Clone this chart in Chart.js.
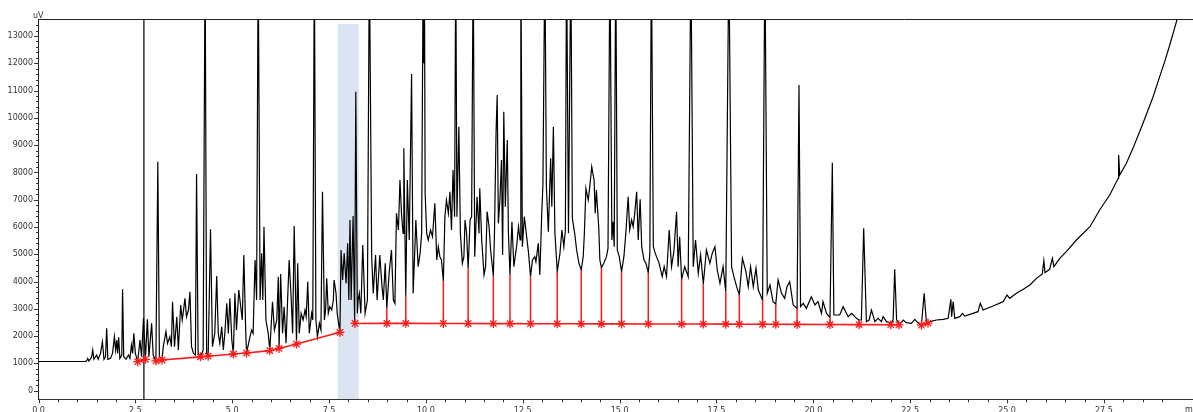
<!DOCTYPE html>
<html><head><meta charset="utf-8">
<script src="https://cdn.jsdelivr.net/npm/chart.js@4.4.1/dist/chart.umd.min.js"></script>
<style>html,body{margin:0;padding:0;background:#fff;overflow:hidden}#wrap{position:relative;width:1193px;height:412px}</style>
</head><body><div id="wrap"><canvas id="c"></canvas></div>
<script>
// ---- data (time in min, signal in uV) ----
const retentionTime = [
0.00,1.20,1.24,1.27,1.30,1.33,1.37,1.40,1.43,1.50,
1.54,1.60,1.65,1.69,1.73,1.76,1.79,1.86,1.91,1.96,
1.99,2.02,2.04,2.07,2.10,2.15,2.17,2.20,2.26,2.32,
2.36,2.40,2.43,2.46,2.50,2.56,2.62,2.66,2.71,2.76,
2.81,2.85,2.92,2.96,3.03,3.08,3.12,3.19,3.22,3.29,
3.33,3.39,3.43,3.46,3.51,3.57,3.61,3.67,3.71,3.75,
3.78,3.82,3.87,3.91,3.95,4.00,4.05,4.08,4.12,4.18,
4.25,4.30,4.34,4.38,4.44,4.49,4.55,4.60,4.64,4.68,
4.73,4.77,4.81,4.86,4.90,4.94,4.99,5.03,5.07,5.11,
5.17,5.22,5.26,5.30,5.35,5.37,5.44,5.50,5.54,5.59,
5.63,5.67,5.72,5.76,5.79,5.82,5.87,5.93,5.97,6.04,
6.09,6.15,6.19,6.21,6.25,6.30,6.34,6.39,6.43,6.47,
6.52,6.56,6.60,6.66,6.69,6.73,6.78,6.83,6.88,6.91,
6.95,6.99,7.05,7.08,7.12,7.16,7.20,7.25,7.29,7.33,
7.38,7.41,7.44,7.48,7.52,7.57,7.61,7.63,7.68,7.71,
7.78,7.81,7.85,7.89,7.94,7.98,8.01,8.04,8.07,8.12,
8.16,8.19,8.23,8.25,8.28,8.32,8.37,8.43,8.49,8.54,
8.60,8.64,8.70,8.74,8.81,8.86,8.90,8.95,8.99,9.05,
9.11,9.16,9.20,9.24,9.29,9.33,9.37,9.41,9.43,9.48,
9.52,9.57,9.63,9.67,9.71,9.74,9.80,9.85,9.89,9.93,
9.945,9.96,9.98,10.02,10.06,10.12,10.17,10.23,10.28,10.32,
10.36,10.40,10.45,10.49,10.53,10.58,10.62,10.66,10.70,10.74,
10.77,10.80,10.85,10.89,10.94,10.98,11.01,11.05,11.09,11.14,
11.18,11.22,11.26,11.32,11.37,11.39,11.44,11.50,11.54,11.58,
11.63,11.67,11.74,11.77,11.81,11.84,11.87,11.91,11.95,11.98,
12.01,12.05,12.10,12.13,12.17,12.22,12.27,12.34,12.39,12.43,
12.45,12.49,12.54,12.60,12.65,12.70,12.75,12.81,12.84,12.90,
12.94,12.99,13.02,13.07,13.11,13.16,13.22,13.25,13.29,13.33,
13.39,13.46,13.51,13.56,13.60,13.63,13.68,13.74,13.78,13.84,
13.89,13.95,14.01,14.06,14.09,14.13,14.19,14.23,14.28,14.34,
14.37,14.40,14.46,14.49,14.53,14.59,14.66,14.70,14.75,14.80,
14.83,14.86,14.90,14.94,14.99,15.05,15.11,15.16,15.22,15.26,
15.31,15.35,15.39,15.44,15.48,15.53,15.57,15.63,15.68,15.74,
15.78,15.82,15.87,15.92,15.97,16.02,16.10,16.15,16.21,16.28,
16.34,16.40,16.47,16.51,16.55,16.60,16.68,16.77,16.84,16.90,
16.96,17.03,17.09,17.16,17.24,17.33,17.39,17.46,17.52,17.59,
17.67,17.74,17.82,17.89,17.95,18.02,18.09,18.17,18.26,18.32,
18.38,18.45,18.52,18.58,18.69,18.75,18.81,18.88,18.96,19.03,
19.09,19.18,19.26,19.32,19.39,19.48,19.58,19.63,19.67,19.74,
19.82,19.95,20.04,20.12,20.21,20.25,20.34,20.43,20.49,20.53,
20.68,20.77,20.90,20.99,21.11,21.18,21.24,21.30,21.37,21.44,
21.50,21.59,21.67,21.76,21.80,21.89,22.00,22.06,22.10,22.15,
22.23,22.32,22.40,22.53,22.62,22.71,22.79,22.86,22.92,23.01,
23.18,23.35,23.48,23.55,23.57,23.61,23.65,23.78,23.85,23.91,
24.12,24.25,24.31,24.38,24.64,24.90,25.00,25.07,25.24,25.42,
25.59,25.76,25.91,25.95,25.98,26.10,26.17,26.21,26.36,26.53,
26.79,27.14,27.39,27.65,27.87,27.88,27.91,28.08,28.25,28.51,
28.77,28.94,29.07,29.20,29.39,29.60
];
const signal = [
1070,1075,1090,1180,1085,1150,1222,1491,1150,1308,
1150,1369,1797,1150,1247,2285,1150,1186,1369,1980,
1491,1858,1369,1955,1186,1308,3715,1247,1150,1308,
1186,1675,1369,2102,1369,1063,1858,1247,2652,1150,
2615,1247,2469,1308,1090,8394,1247,1125,1614,2163,
1736,1980,1614,3263,1614,2713,1491,3140,2591,3018,
3385,2713,2957,3629,1614,1369,1308,7942,1369,1240,
1491,16000,1369,1265,5914,1614,2102,4203,2102,1736,
2346,1491,2102,3201,2102,3385,1858,1345,3568,2224,
3690,3079,2591,4973,2102,1380,1858,2224,2102,4790,
3324,16000,3324,5034,3324,6011,2591,2102,1470,3263,
2224,2591,4179,1550,4277,2102,3079,1736,3324,4790,
3446,2102,6036,1710,4668,2102,2835,2591,2957,2713,
3996,2102,2835,2591,16000,2591,1980,2469,2224,7294,
2591,2957,4118,2835,3079,2957,3324,4057,3568,2835,
2140,5156,4057,5034,3935,5401,3324,6256,3324,6402,
2530,10959,2835,3324,3568,2835,5339,2835,3324,16000,
4912,3568,4973,3324,4973,3935,3324,4668,3018,4301,
5156,3324,3201,6500,5889,7722,6500,5767,8882,3470,
7722,5523,11607,3568,5034,6256,4545,5034,5767,16000,
12000,16000,7233,5767,5523,5889,5645,6867,4790,5278,
4912,4790,4020,6378,6989,6500,7294,5889,8088,6378,
16000,6378,9677,5767,4668,4912,6256,5767,4484,6256,
6378,16000,4912,7111,5767,7416,5523,4240,4545,6561,
6011,5156,4203,5767,9432,10837,6134,6989,8455,4973,
10226,6744,9188,5767,4240,6195,4545,5278,6011,5523,
16000,5278,6378,5645,5034,4179,4790,4912,4729,5401,
4240,6500,7539,16000,7477,5828,8516,6744,9677,5767,
4362,5034,5889,5278,5889,16000,5767,16000,6317,5767,
5156,4668,4423,4912,5767,7416,6989,7477,8211,7722,
6500,7355,6011,4790,4509,4668,4912,5217,16000,5523,
6195,5278,16000,5156,4912,4362,4912,5767,7111,5889,
6256,6011,6500,7294,5523,7013,5278,4790,4668,4326,
5034,16000,5278,5034,4851,4668,4179,4545,4179,5889,
4545,5095,6561,4545,5645,4081,4545,4179,16000,4545,
5523,4301,4973,3910,5156,4668,5034,5278,4423,3935,
4545,3629,16000,4545,4179,3812,3507,4851,4362,3812,
4545,3812,4484,3690,3324,16000,3568,3873,3263,3177,
4057,3568,3385,3812,3996,3140,3018,11204,3079,3201,
3018,3446,3140,3263,2835,3263,2835,2688,8357,2774,
2774,3079,2713,2835,2652,2591,2591,5950,2530,2591,
2957,2530,2652,2530,2713,2530,2469,2591,4448,2591,
2444,2591,2493,2469,2615,2469,2407,3568,2493,2530,
2591,2615,2652,3348,2713,3263,2652,2713,2835,2737,
2835,2896,3201,2957,3104,3263,3507,3385,3568,3715,
3873,4118,4277,4765,4326,4448,4851,4545,4851,5095,
5523,6011,6622,7172,7783,8638,7905,8333,8882,9799,
10776,11509,12059,12670,13610,14700
];
// integration baseline (segments separated by null) with peak markers
const baselineTime  = [2.56,2.76,null,3.03,3.19,4.18,4.38,5.03,5.37,5.97,6.21,6.66,7.78,null,
  8.17,8.99,9.48,10.45,11.09,11.74,12.17,12.70,13.39,14.01,14.53,15.05,15.74,16.60,17.16,17.74,18.09,18.69,19.03,19.58,20.43,21.18,22.00,22.21,null,22.79,22.96];
const baselineValue = [1064,1150,null,1090,1125,1240,1265,1345,1380,1470,1550,1710,2140,null,
  2465,2468,2468,2465,2462,2460,2458,2456,2454,2452,2450,2448,2446,2444,2442,2440,2438,2436,2434,2431,2427,2423,2418,2415,null,2400,2480];
// vertical drop lines from the baseline up to the valley
const dropTime = [8.99,9.48,10.45,11.09,11.74,12.17,12.70,13.39,14.01,14.53,15.05,15.74,16.60,17.16,17.74,18.09,18.69,19.03,19.58,20.43,21.18];
const dropTop  = [3018,3470,4020,4484,4203,4240,4179,4362,4423,4509,4362,4326,4081,3910,3629,3507,3324,3177,3018,2688,2591];
// event line and highlighted window
const eventTime = [2.72];
const windowStart = 7.72, windowEnd = 8.27, windowTop = 13440;
// axes
const xTickLabels = ['0.0','2.5','5.0','7.5','10.0','12.5','15.0','17.5','20.0','22.5','25.0','27.5'];
const yTickLabels = ['0','1000','2000','3000','4000','5000','6000','7000','8000','9000','10000','11000','12000','13000'];
const xUnit = 'min', yUnit = 'uV';
const xMin = 0, xMax = 29.8, yMin = -315, yMax = 13612;

// ---- build datasets ----
const trace = retentionTime.map((t,i)=>({x:t,y:signal[i]}));
const base = [];
let lastX = 0;
baselineTime.forEach((t,i)=>{ if(t===null){ base.push({x:lastX,y:null}); } else { lastX=t; base.push({x:t,y:baselineValue[i]}); } });
const drops = [];
dropTime.forEach((t,i)=>{
  const k = baselineTime.indexOf(t);
  drops.push({x:t,y:baselineValue[k]},{x:t,y:dropTop[i]},{x:t,y:null});
});
const events = [];
eventTime.forEach(t=>{ events.push({x:t,y:yMin-2000},{x:t,y:yMax+5000},{x:t,y:null}); });
const band = [{x:windowStart,y:windowTop},{x:windowEnd,y:windowTop}];

const isMult = (v,s)=>Math.abs(v/s-Math.round(v/s))<1e-6;
const FONT = {family:'DejaVu Sans', size:8};

const axisDecor = {
  id:'axisDecor',
  afterDraw(chart){
    const {ctx, chartArea:a, scales:{x,y}} = chart;
    ctx.save();
    ctx.strokeStyle='#333'; ctx.lineWidth=1;
    ctx.beginPath();
    x.ticks.forEach(t=>{
      const px=Math.round(x.getPixelForValue(t.value))+0.5;
      const len = isMult(t.value,2.5)?4:3;
      ctx.moveTo(px,a.bottom); ctx.lineTo(px,a.bottom+len);
    });
    y.ticks.forEach(t=>{
      const py=Math.round(y.getPixelForValue(t.value))+0.5;
      const len = isMult(t.value,1000)?4.5:2.5;
      ctx.moveTo(a.left,py); ctx.lineTo(a.left-len,py);
    });
    ctx.stroke();
    ctx.strokeStyle='#222'; ctx.beginPath();
    ctx.moveTo(a.left, Math.round(a.top)+0.5); ctx.lineTo(a.right, Math.round(a.top)+0.5); ctx.stroke();
    ctx.fillStyle='#333'; ctx.font='8px "DejaVu Sans"'; ctx.textAlign='left';
    ctx.textBaseline='alphabetic'; ctx.fillText(yUnit, 33, 17.5);
    ctx.textBaseline='top'; ctx.fillText(xUnit, 1185, a.bottom+6.5);
    ctx.restore();
  }
};

new Chart(document.getElementById('c'), {
  type:'line',
  data:{datasets:[
    {data:band, fill:'start', backgroundColor:'#dbe5f1', borderWidth:0, pointRadius:0, order:10},
    {data:events, borderColor:'#333', borderWidth:1.5, pointRadius:0, order:9},
    {data:trace, borderColor:'#000', borderWidth:1.2, pointRadius:0, tension:0, order:5},
    {data:drops, borderColor:'#ff1a1a', borderWidth:1.5, pointRadius:0, order:2},
    {data:base, borderColor:'#ff1a1a', borderWidth:1.6, pointRadius:4.5, pointStyle:'star',
     pointBorderColor:'#ff1a1a', pointBackgroundColor:'#ff1a1a', pointBorderWidth:1.3, order:1}
  ]},
  options:{
    responsive:true, maintainAspectRatio:false, animation:false, devicePixelRatio:1, events:[],
    parsing:true, spanGaps:false,
    layout:{autoPadding:false, padding:{top:19.3,right:0,bottom:0,left:0}},
    plugins:{legend:{display:false}, tooltip:{enabled:false}},
    scales:{
      x:{type:'linear', min:xMin, max:xMax,
        grid:{display:false, drawTicks:true, tickLength:4},
        border:{display:true, color:'#333', width:1},
        ticks:{stepSize:0.5, autoSkip:false, maxRotation:0, minRotation:0, padding:2.5, font:FONT, color:'#333',
          callback:(v)=> isMult(v,2.5) ? (xTickLabels[Math.round(v/2.5)]||'') : ''},
        afterBuildTicks:(s)=>{ s.ticks = s.ticks.filter(t=>isMult(t.value,0.5) && t.value<=xMax); },
        afterFit:(s)=>{ s.height = 12.7; }
      },
      y:{type:'linear', min:yMin, max:yMax,
        grid:{display:false, drawTicks:true, tickLength:4},
        border:{display:true, color:'#222', width:1},
        ticks:{stepSize:200, autoSkip:false, padding:1.5, font:FONT, color:'#333',
          callback:(v)=> (isMult(v,1000) && v>=0) ? (yTickLabels[Math.round(v/1000)]||'') : ''},
        afterBuildTicks:(s)=>{ s.ticks = s.ticks.filter(t=>isMult(t.value,200)); },
        afterFit:(s)=>{ s.width = 38.5; }
      }
    }
  },
  plugins:[axisDecor]
});
</script>
</body></html>
